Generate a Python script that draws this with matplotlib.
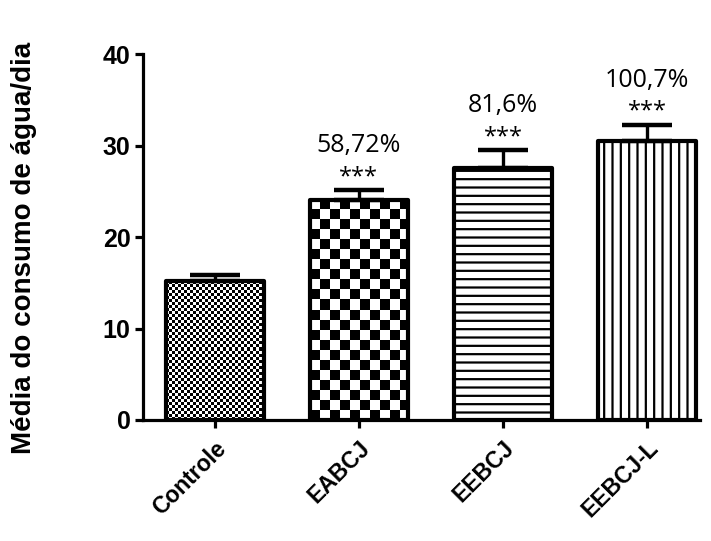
import numpy as np
import matplotlib
matplotlib.use("Agg")
import matplotlib.pyplot as plt

plt.rcParams.update({
    "font.family": "Liberation Sans",
    "font.weight": "bold",
    "hatch.linewidth": 1.6,
    "hatch.color": "black",
})

# mean water intake per day, upper SEM, and increase over control
groups = ["Controle", "EABCJ", "EEBCJ", "EEBCJ-L"]
means = [15.2, 24.1, 27.6, 30.5]
sem = [0.7, 1.0, 1.9, 1.8]
pct_labels = ["", "58,72%", "81,6%", "100,7%"]
stars = ["", "***", "***", "***"]

fig = plt.figure(figsize=(7.11, 5.41), dpi=100)
ax = fig.add_axes([0.201, 0.2237, 0.784, 0.6763])

x = np.arange(len(groups))
width = 0.68
ax.set_xlim(-0.5, 3.37)
ax.set_ylim(0, 40)

hatches = [None, None, "--", "||"]
bars = ax.bar(x, means, width, facecolor="white", edgecolor="black",
              linewidth=3.0, zorder=3, joinstyle="round")
for b, h in zip(bars, hatches):
    if h:
        b.set_hatch(h)

# checkerboard fills for the first two bars (cell size in pixels)
fig.canvas.draw()
for b, cell in ((bars[0], 3), (bars[1], 10)):
    x0, y0 = b.get_x(), b.get_y()
    x1, y1 = x0 + b.get_width(), y0 + b.get_height()
    (px0, py0), (px1, py1) = ax.transData.transform([(x0, y0), (x1, y1)])
    nx, ny = int(round(px1 - px0)), int(round(py1 - py0))
    jj, ii = np.meshgrid(np.arange(nx), np.arange(ny))
    board = ((ii // cell) + (jj // cell)) % 2
    im = ax.imshow(board, cmap="gray", extent=(x0, x1, y0, y1), origin="lower",
                   interpolation="nearest", aspect="auto", zorder=2)
    im.set_clip_path(b)
    b.set_facecolor("none")

ax.errorbar(x, means, yerr=[np.zeros(len(sem)), sem], fmt="none",
            ecolor="black", elinewidth=2.4, capsize=18, capthick=3.2, zorder=4)

for xi, m, s, p, st in zip(x, means, sem, pct_labels, stars):
    if st:
        ax.text(xi, m + s + 0.1, st, ha="center", va="bottom", fontsize=17,
                family="Open Sans", fontweight="normal")
    if p:
        ax.text(xi, m + s + 3.5, p, ha="center", va="bottom", fontsize=18,
                family="Open Sans", fontweight="normal")

for side in ("top", "right"):
    ax.spines[side].set_visible(False)
for side in ("left", "bottom"):
    ax.spines[side].set_linewidth(2.3)
ax.spines["left"].set_bounds(0, 40)

ax.set_yticks([0, 10, 20, 30, 40])
ax.set_xticks(x)
ax.set_xticklabels(groups, rotation=45, ha="right", va="top",
                   rotation_mode="anchor", fontsize=16.5, fontweight="bold")
ax.tick_params(axis="both", direction="out", length=6, width=2.3)
ax.tick_params(axis="y", labelsize=18, pad=3)
ax.tick_params(axis="x", pad=6)
for t in ax.get_yticklabels():
    t.set_fontweight("bold")

ax.set_ylabel("Média do consumo de água/dia", fontsize=20, fontweight="bold")
ax.yaxis.set_label_coords(-0.19, 0.47)

fig.savefig("out.png", dpi=100)
